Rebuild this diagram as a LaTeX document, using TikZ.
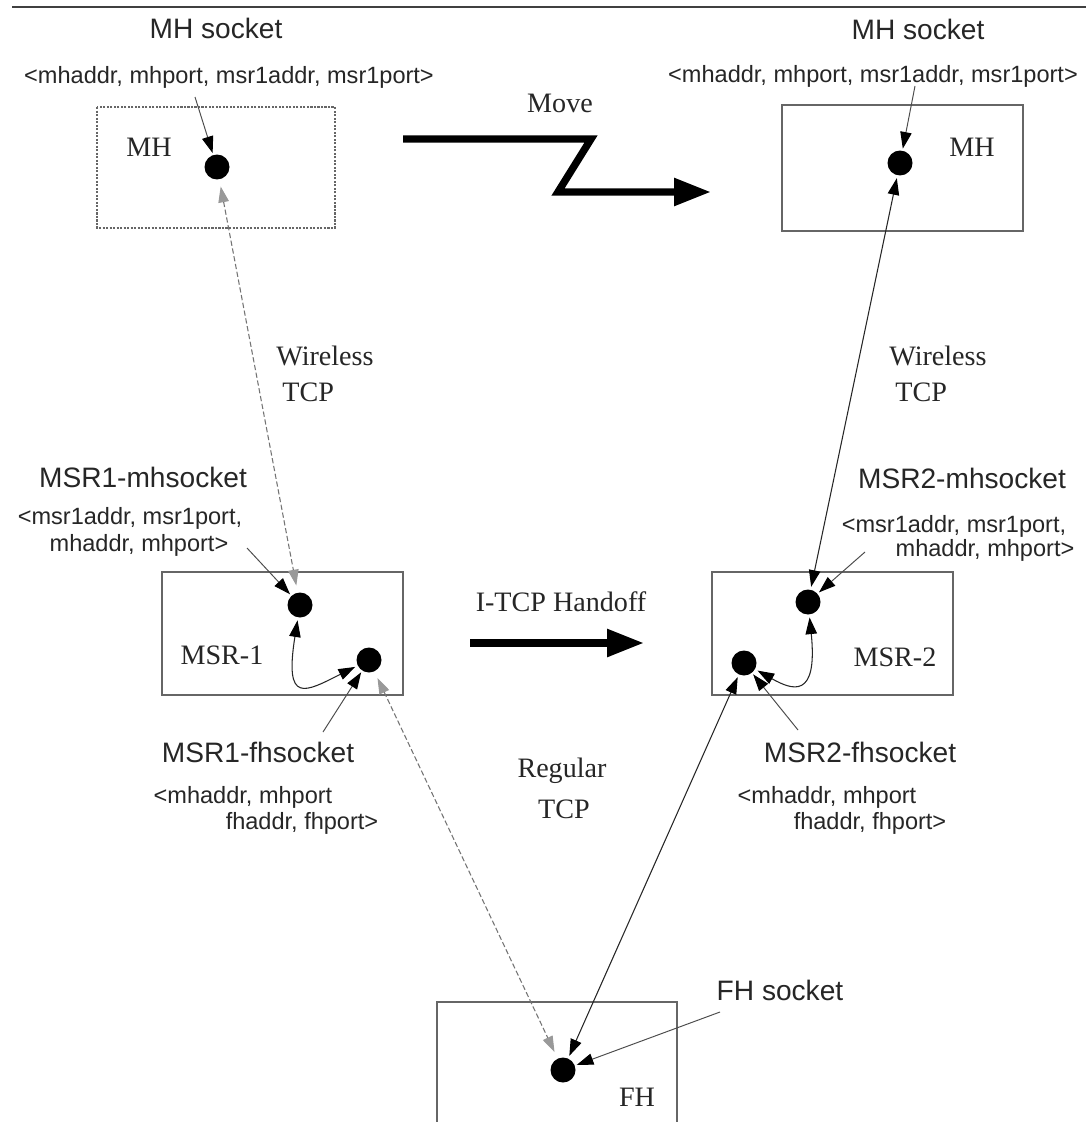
\documentclass[tikz,border=0pt]{standalone}
\usepackage{fontspec}
\setmainfont{Liberation Serif}
\setsansfont{Liberation Sans}
\usetikzlibrary{arrows.meta}
\begin{document}
\begin{tikzpicture}[x=0.02cm,y=-0.02cm,
  sbig/.style={font=\sffamily\fontsize{16}{19}\selectfont, inner sep=0pt, text=black!85},
  ssmall/.style={font=\sffamily\fontsize{13.4}{16}\selectfont, inner sep=0pt, text=black!85},
  serif/.style={font=\fontsize{16}{19}\selectfont, inner sep=0pt, text=black!85},
  box/.style={draw=black!60, line width=0.8pt},
  dotbox/.style={draw=black!60, line width=0.7pt, dash pattern=on 1.2pt off 0.8pt},
  sock/.style={circle, fill=black, inner sep=0pt, minimum size=0.5cm},
  lbl/.style={draw=black!70, line width=0.55pt, -{Triangle[length=9.5pt,width=6.5pt,color=black]}, shorten >=1pt},
  dsh/.style={draw=black!55, line width=0.6pt, dash pattern=on 3pt off 1.5pt,
    {Triangle[length=9pt,width=6pt,color=black!40]}-{Triangle[length=9pt,width=6pt,color=black!40]},
    shorten >=4pt, shorten <=4pt},
  sol/.style={draw=black!85, line width=0.6pt,
    {Triangle[length=9.5pt,width=6.5pt,color=black]}-{Triangle[length=9.5pt,width=6.5pt,color=black]},
    shorten >=1.5pt, shorten <=1.5pt},
  bigarr/.style={draw=black, line width=4.2pt, line join=miter, -{Triangle[length=21pt,width=15pt]}}
]
\useasboundingbox (0,0) rectangle (1086,1122);
\fill[white] (0,0) rectangle (1086,1122);

% top rule
\draw[black!75, line width=1.4pt] (12,7) -- (1086,7);

% boxes
\draw[dotbox] (97,107) rectangle (335,228);
\draw[box] (782,105) rectangle (1023,231);
\draw[box] (162,572) rectangle (403,695);
\draw[box] (712,572) rectangle (953,695);
\draw[box] (437,1122) -- (437,1002) -- (677,1002) -- (677,1122);

% sockets
\node[sock] (mh1) at (217,167) {};
\node[sock] (mh2) at (900,163) {};
\node[sock] (m1a) at (300,605) {};
\node[sock] (m1b) at (369,660) {};
\node[sock] (m2a) at (808,602) {};
\node[sock] (m2b) at (744,663) {};
\node[sock] (fh) at (563,1070) {};

% texts
\node[sbig] (t1) at (216,28) {MH socket};
\node[ssmall] (t2) at (229,77) {<mhaddr, mhport, msr1addr, msr1port>};
\node[sbig] (t3) at (918,29) {MH socket};
\node[ssmall] (t4) at (873,76) {<mhaddr, mhport, msr1addr, msr1port>};
\node[serif] (mv) at (560,103) {Move};
\node[serif] (lmh1) at (149,147) {MH};
\node[serif] (lmh2) at (972,147) {MH};
\node[serif, anchor=west] (w1) at (276,356) {Wireless};
\node[serif, anchor=west] (w2) at (282,392) {TCP};
\node[serif, anchor=west] (w3) at (889,356) {Wireless};
\node[serif, anchor=west] (w4) at (895,392) {TCP};
\node[sbig] (a1) at (143,477) {MSR1-mhsocket};
\node[ssmall] (a2) at (130,518) {<msr1addr, msr1port,};
\node[ssmall] (a3) at (139,545) {mhaddr, mhport>};
\node[sbig] (b1) at (962,478) {MSR2-mhsocket};
\node[ssmall] (b2) at (954,526) {<msr1addr, msr1port,};
\node[ssmall] (b3) at (985,550) {mhaddr, mhport>};
\node[serif] (ho) at (561,602) {I-TCP Handoff};
\node[serif] (lm1) at (222,655) {MSR-1};
\node[serif] (lm2) at (895,657) {MSR-2};
\node[sbig] (c1) at (258,752) {MSR1-fhsocket};
\node[ssmall] (c2) at (243,797) {<mhaddr, mhport};
\node[ssmall] (c3) at (302,823) {fhaddr, fhport>};
\node[sbig] (d1) at (860,752) {MSR2-fhsocket};
\node[ssmall] (d2) at (827,797) {<mhaddr, mhport};
\node[ssmall] (d3) at (870,823) {fhaddr, fhport>};
\node[serif] (rg1) at (562,771) {Regular};
\node[serif] (rg2) at (564,809) {TCP};
\node[sbig] (e1) at (780,990) {FH socket};
\node[serif] (lfh) at (637,1097) {FH};

% label pointers
\coordinate (p1) at (195,97);
\coordinate (p2) at (915,86);
\coordinate (p3) at (247,548);
\coordinate (p4) at (865,552);
\coordinate (p5) at (323,732);
\coordinate (p6) at (798,730);
\coordinate (p7) at (720,1012);
\draw[lbl] (p1) -- (mh1);
\draw[lbl] (p2) -- (mh2);
\draw[lbl] (p3) -- (m1a);
\draw[lbl] (p4) -- (m2a);
\draw[lbl] (p5) -- (m1b);
\draw[lbl] (p6) -- (m2b);
\draw[lbl] (p7) -- (fh);

% connections
\draw[dsh] (mh1) -- (m1a);
\draw[sol] (mh2) -- (m2a);
\draw[dsh] (m1b) -- (fh);
\draw[sol] (m2b) -- (fh);
\draw[sol] (m1a) .. controls (284,705) and (305,692) .. (m1b);
\draw[sol] (m2a) .. controls (818,700) and (792,690) .. (m2b);

% move arrow
\coordinate (mv1) at (403,139);
\coordinate (mv2) at (591,139);
\coordinate (mv3) at (558,192);
\coordinate (mv4) at (711,192);
\draw[bigarr] (mv1) -- (mv2) -- (mv3) -- (mv4);

% handoff arrow
\coordinate (h1) at (470,643);
\coordinate (h2) at (644,643);
\draw[bigarr] (h1) -- (h2);
\end{tikzpicture}
\end{document}
